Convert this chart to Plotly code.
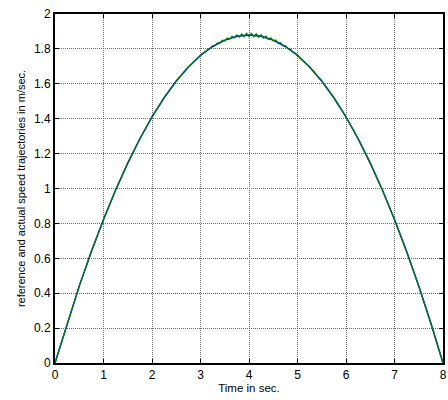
import plotly.graph_objects as go

# reference speed trajectory (m/s) sampled every 0.25 s
t_ref = [0, 0.25, 0.5, 0.75, 1, 1.25, 1.5, 1.75, 2, 2.25, 2.5, 2.75, 3, 3.25, 3.5, 3.75, 4,
         4.25, 4.5, 4.75, 5, 5.25, 5.5, 5.75, 6, 6.25, 6.5, 6.75, 7, 7.25, 7.5, 7.75, 8]
v_ref = [0, 0.2277, 0.4406, 0.6389, 0.8225, 0.9914, 1.1456, 1.2852, 1.41, 1.5202, 1.6156, 1.6964,
         1.7625, 1.8139, 1.8506, 1.8727, 1.88, 1.8727, 1.8506, 1.8139, 1.7625, 1.6964, 1.6156,
         1.5202, 1.41, 1.2852, 1.1456, 0.9914, 0.8225, 0.6389, 0.4406, 0.2277, 0]

# actual speed trajectory (m/s), noisy around the peak
t_act = [0, 0.25, 0.5, 0.75, 1, 1.25, 1.5, 1.75, 2, 2.25, 2.5, 2.75,
         3.00, 3.05, 3.10, 3.15, 3.20, 3.25, 3.30, 3.35, 3.40, 3.45, 3.50, 3.55, 3.60, 3.65,
         3.70, 3.75, 3.80, 3.85, 3.90, 3.95, 4.00, 4.05, 4.10, 4.15, 4.20, 4.25, 4.30, 4.35,
         4.40, 4.45, 4.50, 4.55, 4.60, 4.65, 4.70, 4.75, 4.80, 4.85, 4.90, 4.95, 5.00,
         5.25, 5.5, 5.75, 6, 6.25, 6.5, 6.75, 7, 7.25, 7.5, 7.75, 8]
v_act = [0, 0.2277, 0.4406, 0.6389, 0.8225, 0.9914, 1.1456, 1.2852, 1.41, 1.5202, 1.6156, 1.6964,
         1.7625, 1.7765, 1.7825, 1.7975, 1.8020, 1.8170, 1.8190, 1.8340, 1.8330, 1.8495, 1.8455,
         1.8615, 1.8550, 1.8720, 1.8625, 1.8800, 1.8675, 1.8855, 1.8700, 1.8890, 1.8705, 1.8895,
         1.8695, 1.8865, 1.8670, 1.8805, 1.8620, 1.8730, 1.8545, 1.8630, 1.8450, 1.8505, 1.8330,
         1.8355, 1.8180, 1.8180, 1.8010, 1.7985, 1.7820, 1.7765, 1.7625,
         1.6964, 1.6156, 1.5202, 1.41, 1.2852, 1.1456, 0.9914, 0.8225, 0.6389, 0.4406, 0.2277, 0]

x_ticks = [0, 1, 2, 3, 4, 5, 6, 7, 8]
y_ticks = [0, 0.2, 0.4, 0.6, 0.8, 1, 1.2, 1.4, 1.6, 1.8, 2]
y_labels = ["0", "0.2", "0.4", "0.6", "0.8", "1", "1.2", "1.4", "1.6", "1.8", "2"]

fig = go.Figure()
fig.add_trace(go.Scatter(x=t_ref, y=v_ref, mode="lines",
                         line=dict(color="#0000ff", width=1.5), showlegend=False))
fig.add_trace(go.Scatter(x=t_act, y=v_act, mode="lines",
                         line=dict(color="#008000", width=1.3), showlegend=False))

font = "Liberation Sans, Arial, sans-serif"
grid = dict(showgrid=True, gridcolor="#6e6e6e", griddash="1px,1px", gridwidth=1)
fig.update_layout(
    width=448, height=400,
    margin=dict(l=55, r=1, t=14, b=37),
    paper_bgcolor="white", plot_bgcolor="white",
    font=dict(family=font, size=12, color="black"),
    xaxis=dict(range=[0, 8], tickvals=x_ticks, ticks="inside", ticklen=4, tickcolor="black",
               showline=True, linecolor="black", linewidth=2, mirror="allticks",
               zeroline=False, tickfont=dict(size=12), ticklabeloverflow="allow",
               title=dict(text="Time in sec.", font=dict(size=11.5), standoff=3), **grid),
    yaxis=dict(range=[0, 2], tickvals=y_ticks, ticktext=y_labels, ticks="inside", ticklen=4,
               tickcolor="black",
               showline=True, linecolor="black", linewidth=2, mirror="allticks",
               zeroline=False, tickfont=dict(size=12),
               title=dict(text="reference and actual speed trajectories in m/sec.",
                          font=dict(size=11), standoff=6), **grid),
)

fig.write_html("out.html")
